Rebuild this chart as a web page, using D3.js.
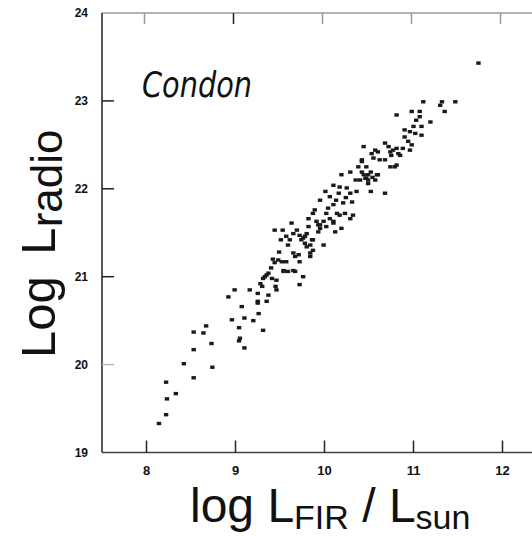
<!DOCTYPE html>
<html>
<head>
<meta charset="utf-8">
<script src="https://cdn.jsdelivr.net/npm/d3@7"></script>
<style>
  body { margin: 0; background: #fff; }
  svg { display: block; }
  .tick-label { font-family: "Liberation Sans", Arial, sans-serif; font-weight: bold; fill: #111; }
  .axis-title { font-family: "Liberation Sans", Arial, sans-serif; fill: #111; }
</style>
</head>
<body>
<div id="chart"></div>
<script>
// galaxies: log far-infrared luminosity vs log radio luminosity
var lfir = [
  8.14, 8.22, 8.23, 8.33, 8.22, 8.53, 8.42, 8.74, 8.53, 8.73,
  8.53, 8.64, 8.67, 8.92, 8.99, 9.16, 9.07, 8.96, 9.10, 9.04,
  9.05, 9.04, 9.10, 9.20, 9.26, 9.31, 9.25, 9.35, 9.30, 9.28,
  9.33, 9.37, 9.45, 9.46, 9.46, 9.37, 9.54, 9.59, 9.67, 9.72,
  9.31, 9.41, 9.35, 9.40, 9.44, 9.48, 9.52, 9.42, 9.54, 9.65,
  9.76, 9.49, 9.59, 9.65, 9.67, 9.71, 9.84, 9.61, 9.65, 9.69,
  9.72, 9.76, 9.80, 9.82, 9.78, 9.84, 9.87, 9.44, 9.53, 9.63,
  9.95, 10.02, 9.99, 9.91, 10.10, 9.25, 9.78, 9.74, 9.80, 9.86,
  9.87, 9.84, 9.82, 9.87, 9.89, 9.93, 9.95, 9.99, 10.02, 10.06,
  10.10, 10.12, 10.14, 10.17, 10.23, 10.29, 10.32, 10.19, 9.95, 10.01,
  10.06, 10.10, 10.16, 10.17, 10.21, 10.31, 10.10, 10.25, 10.29, 10.36,
  10.19, 10.29, 10.38, 10.40, 10.44, 10.47, 10.49, 10.59, 10.52, 10.68,
  10.42, 10.74, 10.81, 10.42, 10.46, 10.49, 10.47, 10.44, 10.42, 10.53,
  10.57, 10.60, 10.55, 10.68, 10.72, 10.74, 10.75, 10.77, 10.81, 10.83,
  10.68, 10.79, 10.85, 10.60, 10.81, 10.90, 10.96, 11.00, 11.02, 11.09,
  11.09, 10.94, 10.98, 10.96, 10.98, 11.07, 11.07, 11.19, 11.11, 11.30,
  11.32, 11.35, 11.47, 11.73, 10.90, 10.52, 10.54, 10.57, 10.49,
  9.25, 9.57, 9.72, 9.51, 9.57, 9.93, 10.04, 10.13, 10.24, 10.35,
  10.62, 10.88, 11.03
];
var lradio = [
  19.33, 19.43, 19.61, 19.67, 19.80, 19.85, 20.01, 19.97, 20.17, 20.24,
  20.37, 20.36, 20.44, 20.77, 20.85, 20.85, 20.66, 20.51, 20.53, 20.42,
  20.30, 20.27, 20.19, 20.50, 20.58, 20.39, 20.70, 20.72, 20.89, 20.92,
  21.00, 21.04, 20.89, 20.96, 20.85, 20.79, 21.06, 21.06, 21.06, 20.91,
  20.98, 20.98, 21.02, 21.10, 21.16, 21.19, 21.17, 21.20, 21.07, 21.07,
  21.00, 21.28, 21.36, 21.27, 21.23, 21.25, 21.27, 21.42, 21.49, 21.53,
  21.47, 21.44, 21.49, 21.57, 21.38, 21.36, 21.42, 21.53, 21.53, 21.61,
  21.59, 21.57, 21.36, 21.63, 21.63, 20.72, 21.46, 21.42, 21.34, 21.42,
  21.30, 21.23, 21.66, 21.72, 21.76, 21.59, 21.55, 21.63, 21.72, 21.66,
  21.61, 21.51, 21.72, 21.70, 21.72, 21.66, 21.70, 21.55, 21.87, 21.97,
  21.91, 22.04, 21.95, 22.02, 21.84, 21.85, 21.82, 22.01, 21.95, 21.97,
  22.16, 22.19, 22.25, 22.10, 22.16, 22.12, 22.06, 22.16, 21.97, 21.95,
  22.31, 22.25, 22.27, 22.19, 22.12, 22.10, 22.25, 22.48, 22.33, 22.40,
  22.44, 22.42, 22.35, 22.52, 22.48, 22.42, 22.38, 22.44, 22.46, 22.40,
  22.33, 22.25, 22.38, 22.16, 22.84, 22.67, 22.65, 22.71, 22.63, 22.71,
  22.61, 22.54, 22.50, 22.44, 22.88, 22.88, 22.82, 22.76, 22.99, 22.95,
  22.99, 22.88, 22.99, 23.43, 22.59, 22.19, 22.13, 22.10, 22.16,
  20.81, 21.17, 21.17, 21.42, 21.46, 21.51, 21.78, 21.87, 21.90, 22.10,
  22.33, 22.46, 22.78
];
var xTicks = [8, 9, 10, 11, 12];
var yTicks = [19, 20, 21, 22, 23, 24];

var width = 532, height = 536;

var x = d3.scaleLinear().domain([7.5, 12.5]).range([102, 547]);
var y = d3.scaleLinear().domain([19, 24]).range([452.5, 13]);

var svg = d3.select("#chart").append("svg")
    .attr("width", width)
    .attr("height", height);

// frame lines
svg.append("line")
    .attr("x1", x(7.5)).attr("x2", width)
    .attr("y1", y(24)).attr("y2", y(24))
    .attr("stroke", "#999").attr("stroke-width", 1.5);
svg.append("line")
    .attr("x1", x(7.5)).attr("x2", width)
    .attr("y1", y(19)).attr("y2", y(19))
    .attr("stroke", "#444").attr("stroke-width", 1.5);
svg.append("line")
    .attr("x1", x(7.5)).attr("x2", x(7.5))
    .attr("y1", y(24)).attr("y2", y(19))
    .attr("stroke", "#222").attr("stroke-width", 1.5);

// bottom ticks point up, top ticks point down
svg.selectAll(".xtick-b").data(xTicks).enter().append("line")
    .attr("class", "xtick-b")
    .attr("x1", d => x(d)).attr("x2", d => x(d))
    .attr("y1", y(19)).attr("y2", y(19) - 12)
    .attr("stroke", "#222").attr("stroke-width", 1.5);
svg.selectAll(".xtick-t").data(xTicks).enter().append("line")
    .attr("class", "xtick-t")
    .attr("x1", d => x(d) - 2).attr("x2", d => x(d) - 2)
    .attr("y1", y(24)).attr("y2", y(24) + 11)
    .attr("stroke", d => d == 9 ? "#222" : "#999").attr("stroke-width", 1.5);
svg.selectAll(".ytick").data(yTicks.slice(1, 5)).enter().append("line")
    .attr("class", "ytick")
    .attr("x1", x(7.5)).attr("x2", x(7.5) + 12)
    .attr("y1", d => y(d)).attr("y2", d => y(d))
    .attr("stroke", d => d == 20 ? "#bbb" : "#222").attr("stroke-width", 1.5);

// tick labels
svg.selectAll(".xlab").data(xTicks).enter().append("text")
    .attr("class", "tick-label")
    .attr("x", d => x(d))
    .attr("y", 475)
    .attr("text-anchor", "middle")
    .style("font-size", "13px")
    .text(d => d);
svg.selectAll(".ylab").data(yTicks).enter().append("text")
    .attr("class", "tick-label")
    .attr("x", 88)
    .attr("y", d => y(d) + 4)
    .attr("text-anchor", "end")
    .style("font-size", "12px")
    .text(d => d);

// points
svg.selectAll(".pt").data(d3.zip(lfir, lradio)).enter().append("rect")
    .attr("class", "pt")
    .attr("x", d => x(d[0]) - 2.2)
    .attr("y", d => y(d[1]) - 1.7)
    .attr("width", 4.4)
    .attr("height", 3.4)
    .attr("fill", "#1a1a1a");

// label in the corner
svg.append("text")
    .attr("x", 142).attr("y", 97)
    .attr("textLength", 110)
    .attr("lengthAdjust", "spacingAndGlyphs")
    .style("font-family", "DejaVu Sans, sans-serif")
    .style("font-style", "italic")
    .style("font-size", "36px")
    .style("fill", "#111")
    .text("Condon");

// x title
var xt = svg.append("text")
    .attr("class", "axis-title")
    .attr("x", 190).attr("y", 522)
    .style("font-size", "48px");
xt.append("tspan").text("log L");
xt.append("tspan").attr("dy", 7).style("font-size", "34px").text("FIR");
xt.append("tspan").attr("dy", -7).text(" / L");
xt.append("tspan").attr("dy", 7).style("font-size", "34px").text("sun");

// y title
var yt = svg.append("text")
    .attr("class", "axis-title")
    .attr("transform", "translate(55,358) rotate(-90)")
    .style("font-size", "49px");
yt.append("tspan").text("Log ");
yt.append("tspan").attr("dx", 8).text("L");
yt.append("tspan").attr("dy", 7).style("font-size", "44px").text("radio");
</script>
</body>
</html>
